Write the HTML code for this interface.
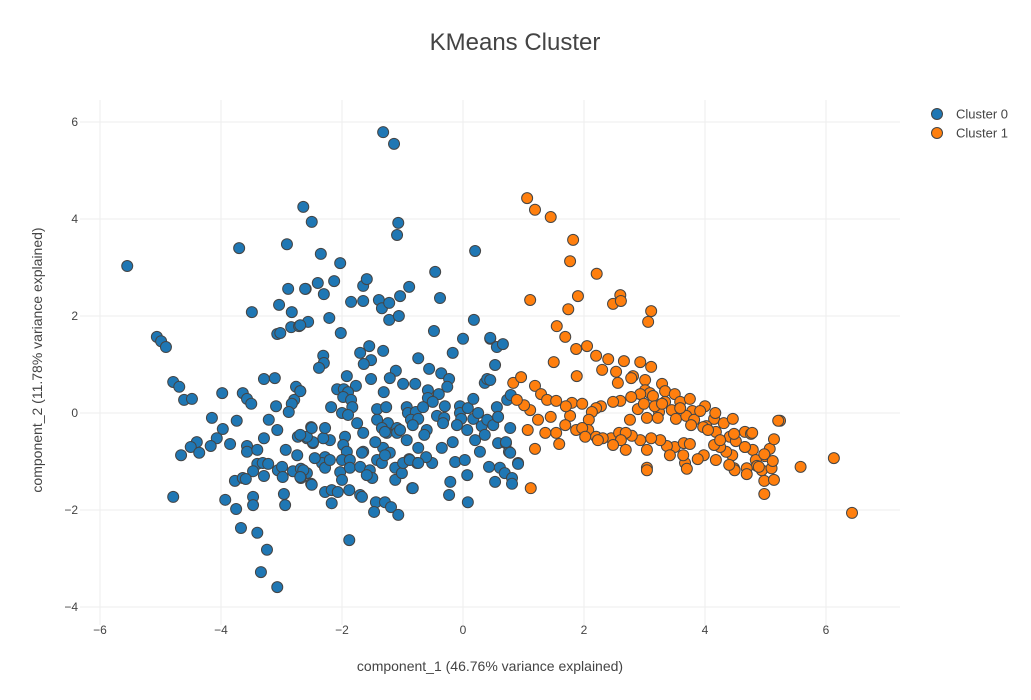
<!DOCTYPE html>
<html><head><meta charset="utf-8"><style>
html,body{margin:0;padding:0;background:#fff;}
svg{display:block;font-family:"Liberation Sans",sans-serif;}
</style></head><body>
<svg id="chart" width="1031" height="700" viewBox="0 0 1031 700">
<text x="515" y="50" text-anchor="middle" font-size="24" fill="#444">KMeans Cluster</text>
<g id="grid"></g>
<g id="xticks"></g>
<g id="yticks"></g>
<g id="marks"></g>
<text x="490" y="671" text-anchor="middle" font-size="14" fill="#444">component_1 (46.76% variance explained)</text>
<text transform="translate(42,360) rotate(-90)" text-anchor="middle" font-size="14" fill="#444">component_2 (11.78% variance explained)</text>
<g>
<g><circle cx="937" cy="114" r="5.5" fill="#1f77b4" stroke="#444" stroke-width="1"/><text x="956" y="118.5" font-size="13" fill="#444">Cluster 0</text></g>
<g><circle cx="937" cy="133" r="5.5" fill="#ff7f0e" stroke="#444" stroke-width="1"/><text x="956" y="137.5" font-size="13" fill="#444">Cluster 1</text></g>
</g>
</svg>
<script>
const xTicks=[-6,-4,-2,0,2,4,6];
const yTicks=[-4,-2,0,2,4,6];
const c1x=[1.06,1.19,1.45,1.82,1.77,2.21,1.11,1.74,1.90,2.48,2.60,2.61,3.11,3.06,1.55,1.69,1.87,2.05,1.50,1.88,2.20,2.40,2.30,2.66,2.93,3.11,2.81,2.53,2.56,2.78,3.01,3.01,3.09,3.29,3.34,3.50,3.59,3.75,3.79,4.00,4.15,4.17,3.24,3.14,2.93,2.78,2.60,2.48,2.28,2.20,2.13,2.08,2.07,1.87,1.77,1.69,1.54,1.45,1.24,1.11,1.01,1.07,0.89,0.83,0.96,1.19,1.29,1.39,1.54,1.80,1.97,1.70,1.36,1.19,1.59,1.97,2.02,2.20,2.45,2.58,2.76,2.89,2.99,3.17,3.34,3.45,3.52,3.69,3.82,3.92,4.02,4.18,4.31,4.46,4.41,4.66,4.76,4.79,4.99,5.07,5.14,5.24,4.45,4.35,4.18,4.25,3.98,3.88,3.67,3.64,3.50,3.37,3.26,3.11,2.93,2.79,2.69,2.61,2.69,2.48,2.31,2.23,3.04,3.04,3.04,3.22,3.29,3.59,3.77,3.97,4.05,4.15,4.25,4.51,4.66,4.84,4.86,4.94,4.98,5.14,4.48,4.69,5.10,5.12,4.98,4.89,4.69,4.49,4.40,4.98,4.78,4.66,4.48,5.21,5.58,6.13,6.43,3.70,3.04,3.42,3.65,3.75,1.12];
const c1y=[4.43,4.19,4.04,3.57,3.13,2.87,2.33,2.14,2.41,2.25,2.43,2.31,2.10,1.88,1.79,1.57,1.32,1.38,1.05,0.76,1.18,1.11,0.89,1.07,1.05,0.95,0.76,0.85,0.62,0.72,0.68,0.47,0.41,0.60,0.45,0.39,0.23,0.29,0.04,0.14,-0.12,0.00,0.02,0.35,0.39,0.33,0.25,0.23,0.14,0.10,0.02,-0.14,-0.35,-0.35,-0.06,-0.25,-0.41,-0.08,-0.14,0.06,0.16,-0.35,0.27,0.62,0.74,0.56,0.39,0.27,0.25,0.21,0.19,0.14,-0.41,-0.74,-0.64,-0.31,-0.49,-0.49,-0.52,-0.41,-0.14,0.08,0.19,0.14,0.23,0.06,-0.12,-0.06,-0.14,0.04,-0.27,-0.39,-0.21,-0.12,-0.49,-0.39,-0.43,-0.76,-0.89,-0.74,-0.54,-0.16,-0.87,-0.80,-0.97,-0.70,-0.87,-0.95,-1.03,-0.87,-0.70,-0.68,-0.56,-0.52,-0.56,-0.47,-0.41,-0.56,-0.76,-0.66,-0.52,-0.56,-1.13,-0.76,-0.10,-0.10,0.19,0.10,-0.25,-0.29,-0.35,-0.66,-0.56,-0.58,-0.70,-0.97,-1.09,-1.18,-1.40,-1.38,-1.14,-1.14,-1.14,-0.99,-1.67,-1.11,-1.26,-1.18,-1.07,-0.85,-0.41,-0.70,-0.43,-0.16,-1.11,-0.93,-2.06,-1.15,-1.18,-0.87,-0.62,-0.64,-1.55];
const c0x=[-1.32,-1.14,-5.55,-3.70,-2.64,-2.50,-2.91,-2.35,-2.03,-1.07,-1.09,0.20,-0.46,-2.89,-2.60,-3.49,-3.04,-2.83,-2.56,-2.84,-2.71,-3.07,-3.02,-5.06,-4.99,-4.91,-4.79,-4.69,-4.61,-4.48,-3.98,-3.64,-3.57,-3.50,-3.29,-3.11,-2.76,-2.69,-2.79,-2.83,-2.88,-3.09,-4.15,-3.74,-3.97,-3.21,-3.07,-2.51,-4.07,-4.40,-4.50,-4.36,-4.66,-4.17,-3.85,-3.57,-3.57,-3.40,-3.29,-2.93,-2.74,-2.73,-2.58,-2.48,-3.40,-3.31,-3.22,-3.47,-3.06,-2.99,-2.98,-3.29,-2.81,-2.68,-2.58,-2.68,-2.51,-3.77,-3.64,-3.59,-4.79,-3.93,-3.75,-3.47,-3.47,-2.96,-2.94,-3.67,-3.40,-3.24,-3.34,-3.07,-2.61,-2.40,-2.30,-2.13,-1.85,-1.65,-1.65,-1.59,-1.39,-1.34,-1.22,-1.22,-1.06,-1.04,-0.89,-0.38,-2.69,-2.21,-2.02,-0.48,0.18,0.00,0.45,0.56,0.66,0.53,0.36,0.40,0.73,0.79,-0.17,-0.56,-0.36,-0.23,-0.26,-0.74,-1.32,-1.55,-1.70,-1.52,-1.64,-2.31,-2.30,-2.38,-1.11,-1.21,-1.52,-1.92,-1.77,-0.99,-0.79,-1.31,-0.58,-0.58,-0.40,-0.50,-2.08,-1.97,-1.90,-1.98,-1.85,-1.83,-2.00,-1.90,-2.18,-2.69,-1.42,-1.27,-1.42,-1.24,-1.09,-1.26,-0.93,-0.91,-0.78,-0.66,-0.86,-0.74,-0.83,-0.43,-0.31,-0.30,-0.33,-0.05,-0.05,0.08,0.17,-0.03,-0.10,0.07,0.17,0.25,0.31,0.40,0.50,0.56,0.58,0.78,0.36,-0.17,-0.13,0.03,0.20,0.28,0.07,0.43,0.61,0.69,0.58,0.71,0.76,0.91,0.81,0.53,0.08,-0.23,-0.21,-0.35,-0.60,-0.51,-0.61,-0.74,-0.64,-0.76,-0.89,-0.93,-0.84,-1.34,-1.29,-1.09,-1.04,-1.65,-1.75,-1.95,-1.98,-2.20,-2.31,-2.48,-2.58,-2.50,-2.28,-1.92,-2.00,-1.87,-2.03,-2.00,-1.87,-1.70,-1.54,-1.50,-1.59,-1.42,-1.32,-1.21,-1.12,-1.12,-1.01,-0.99,-0.88,-0.74,-1.34,-1.29,-1.65,-1.45,-1.67,-2.28,-2.33,-2.45,-2.28,-2.20,-2.50,-2.64,-2.69,-2.28,-2.17,-2.07,-2.17,-1.88,-1.70,-1.67,-1.44,-1.47,-1.29,-1.19,-1.07,-0.83,-1.88,-2.69,0.45,0.45,0.58,0.71,0.78,0.91,0.81];
const c0y=[5.79,5.55,3.03,3.40,4.25,3.94,3.48,3.28,3.09,3.92,3.67,3.34,2.91,2.56,2.56,2.08,2.23,2.08,1.88,1.77,1.79,1.63,1.65,1.57,1.48,1.36,0.64,0.54,0.27,0.29,0.41,0.41,0.29,0.19,0.70,0.72,0.54,0.45,0.27,0.19,0.02,0.14,-0.10,-0.16,-0.33,-0.14,-0.35,-0.29,-0.52,-0.60,-0.70,-0.82,-0.87,-0.68,-0.64,-0.68,-0.80,-0.76,-0.52,-0.76,-0.87,-0.49,-0.52,-0.62,-1.05,-1.03,-1.05,-1.20,-1.18,-1.11,-1.32,-1.30,-1.20,-1.15,-1.24,-1.34,-1.46,-1.40,-1.34,-1.36,-1.73,-1.79,-1.98,-1.73,-1.90,-1.67,-1.90,-2.37,-2.47,-2.82,-3.28,-3.59,2.56,2.68,2.45,2.72,2.29,2.31,2.62,2.76,2.33,2.16,2.27,1.92,2.00,2.41,2.60,2.37,1.81,1.96,1.65,1.69,1.92,1.53,1.53,1.36,1.42,0.99,0.62,0.70,0.27,0.37,1.24,0.91,0.82,0.70,0.54,1.13,1.28,1.38,1.24,1.09,1.01,1.18,1.03,0.93,0.87,0.72,0.70,0.76,0.56,0.60,0.60,0.43,0.47,0.31,0.39,0.23,0.49,0.49,0.43,0.33,0.27,0.12,0.00,-0.04,0.12,0.45,0.08,0.12,-0.14,-0.21,-0.31,-0.41,0.12,0.00,0.02,0.12,-0.14,-0.12,-0.25,-0.06,-0.10,0.14,-0.21,0.14,0.00,0.10,0.29,-0.12,-0.25,-0.35,-0.12,0.00,-0.27,-0.14,-0.25,0.12,-0.08,-0.31,-0.45,-0.60,-1.01,-0.97,-0.56,-0.80,-1.28,-1.11,-1.13,-1.24,-0.62,-0.62,-0.80,-1.03,-1.34,-1.42,-1.84,-1.69,-1.42,-0.72,-0.35,-1.03,-0.91,-0.72,-0.45,-1.03,-0.95,-0.56,-1.55,-0.31,-0.39,-0.41,-0.35,-0.41,-0.21,-0.49,-0.66,-0.56,-0.52,-0.60,-0.49,-0.31,-0.31,-0.80,-0.97,-0.97,-1.22,-1.38,-1.13,-1.11,-1.18,-1.34,-1.28,-0.97,-0.72,-0.82,-1.13,-1.38,-1.24,-1.03,-0.97,-1.03,-1.03,-0.87,-0.80,-0.60,-0.82,-0.91,-1.03,-0.93,-1.13,-0.97,-1.48,-1.18,-1.32,-1.63,-1.59,-1.63,-1.86,-1.59,-1.69,-1.73,-1.84,-2.04,-1.84,-1.94,-2.10,-1.55,-2.62,-0.45,1.55,0.68,-0.08,-0.60,-0.82,-1.05,-1.46];

const NS='http://www.w3.org/2000/svg';
const X0=80,X1=900,Y0=100,Y1=625;
function sx(v){return 463+v*60.5;}
function sy(v){return 413-v*48.5;}
const grid=document.getElementById('grid'),xt=document.getElementById('xticks'),yt=document.getElementById('yticks'),marks=document.getElementById('marks');
function mk(tag,attrs,parent){const e=document.createElementNS(NS,tag);for(const k in attrs)e.setAttribute(k,attrs[k]);parent.appendChild(e);return e;}
xTicks.forEach(v=>{
  const l=mk('line',{x1:sx(v),x2:sx(v),y1:Y0,y2:Y1,stroke:'#eee','stroke-width':1},grid);
  
  
  const t=mk('text',{x:sx(v),y:634,'text-anchor':'middle','font-size':12,fill:'#444'},xt);
  t.textContent=v<0?'\u2212'+Math.abs(v):String(v);
  
  
});
yTicks.forEach(v=>{
  const l=mk('line',{x1:X0,x2:X1,y1:sy(v),y2:sy(v),stroke:'#eee','stroke-width':1},grid);
  
  
  const t=mk('text',{x:78,y:sy(v)+4,'text-anchor':'end','font-size':12,fill:'#444'},yt);
  t.textContent=v<0?'\u2212'+Math.abs(v):String(v);
  
  
});
function series(xs,ys,color,name){
  const g=mk('g',{},marks);
  
  
  for(let i=0;i<xs.length;i++){
    const c=mk('circle',{cx:sx(xs[i]),cy:sy(ys[i]),r:5.5,fill:color,stroke:'#444','stroke-width':1},g);
    
    
  }
}
series(c0x,c0y,'#1f77b4','cluster-0-points');
series(c1x,c1y,'#ff7f0e','cluster-1-points');
</script>
</body></html>
